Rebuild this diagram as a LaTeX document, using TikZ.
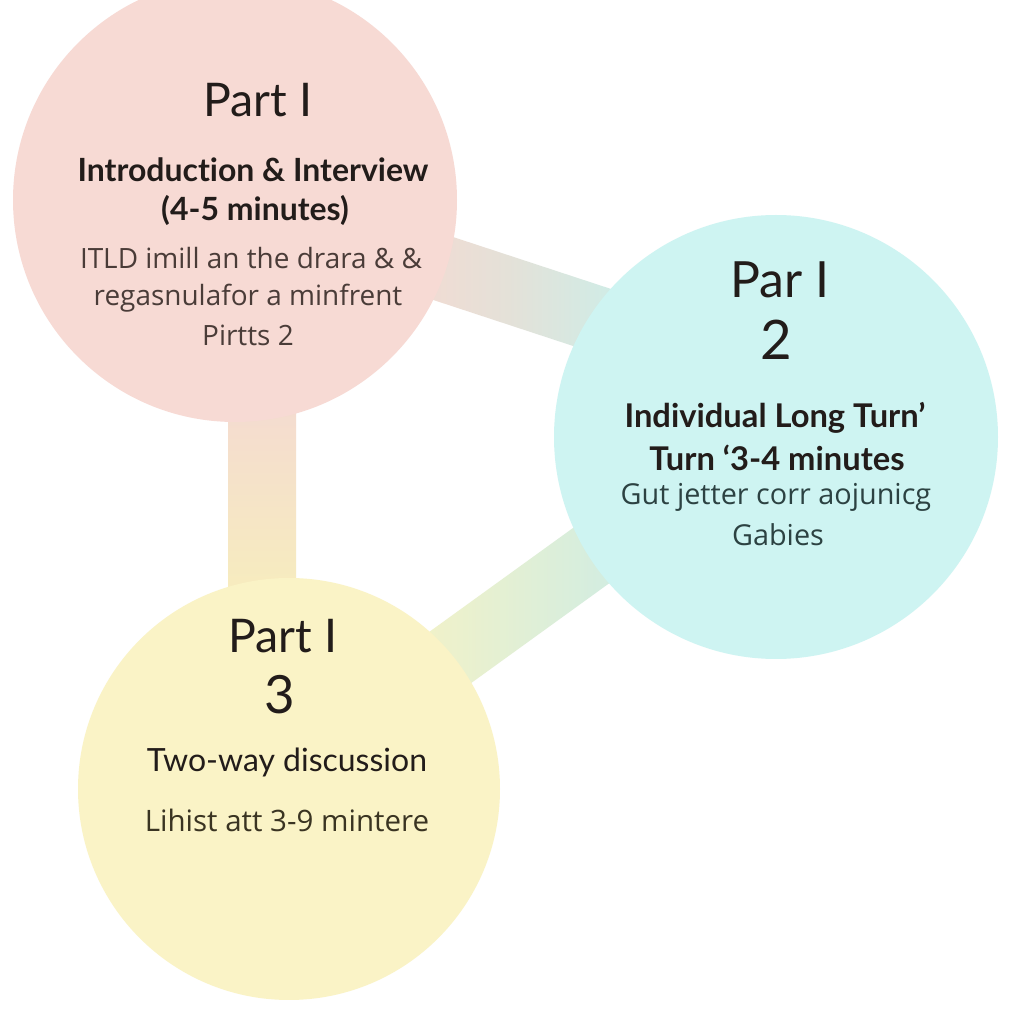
\documentclass[tikz,border=0pt]{standalone}
\usepackage{fontspec}
\setmainfont{Lato}[Ligatures=NoCommon]
\newfontfamily\bodyfont{Open Sans}
\usetikzlibrary{calc}
\pgfdeclarelayer{bottom}
\pgfdeclarelayer{bands}
\pgfsetlayers{bottom,bands,main}
\definecolor{pinkc}{RGB}{247,218,212}
\definecolor{cyanc}{RGB}{206,244,242}
\definecolor{yelc}{RGB}{250,243,198}
\definecolor{bandpink}{RGB}{244,218,210}
\definecolor{bandmid}{RGB}{228,225,216}
\definecolor{bandcyan}{RGB}{208,236,230}
\definecolor{bandyel}{RGB}{247,238,188}
\definecolor{bandgreen}{RGB}{242,242,200}
\definecolor{bandteal}{RGB}{206,236,228}
\definecolor{titlec}{RGB}{34,28,26}
\definecolor{bodyp}{RGB}{74,60,56}
\definecolor{bodyc}{RGB}{44,66,66}
\definecolor{bodyy}{RGB}{58,52,34}
\tikzset{
  blob/.style={circle, draw=none, inner sep=0pt},
  parttitle/.style={text=titlec, font=\fontsize{13.2pt}{15pt}\selectfont, inner sep=0pt},
  partnum/.style={text=titlec, font=\fontsize{15pt}{17pt}\selectfont, inner sep=0pt},
  heading/.style={text=titlec, font=\fontsize{9.1pt}{11pt}\selectfont\bfseries, inner sep=0pt},
  bodyp/.style={text=bodyp, font=\bodyfont\fontsize{7.95pt}{9pt}\selectfont, inner sep=0pt},
  bodyc/.style={text=bodyc, font=\bodyfont\fontsize{8.2pt}{9pt}\selectfont, inner sep=0pt},
  bodyy/.style={text=bodyy, font=\bodyfont\fontsize{8.4pt}{9pt}\selectfont, inner sep=0pt},
}
\begin{document}
\begin{tikzpicture}[x=1cm,y=1cm]
\begin{pgfonlayer}{bottom}
\fill[white] (0,0) rectangle (10.24,10.24);
\end{pgfonlayer}
\useasboundingbox (0,0) rectangle (10.24,10.24);
\clip (0,0) rectangle (10.24,10.24);
% circles
\node[blob, fill=pinkc, minimum size=4.44cm] (P) at (2.35,8.24) {};
\node[blob, fill=cyanc, minimum size=4.44cm] (C) at (7.76,5.87) {};
\node[blob, fill=yelc, minimum size=4.22cm] (Y) at (2.89,2.35) {};
% connectors (behind circles)
\begin{pgfonlayer}{bands}
\coordinate (cb) at ($(C.center)+(0,0.59)$);
\coordinate (pa) at ($(P.center)!0.33!(cb)$);
\coordinate (ca) at ($(P.center)!0.68!(cb)$);
\shade[left color=bandpink, right color=bandcyan, middle color=bandmid]
  ($(pa)!0.33cm!90:(ca)$) -- ($(ca)!0.33cm!-90:(pa)$) -- ($(ca)!0.33cm!90:(pa)$) -- ($(pa)!0.33cm!-90:(ca)$) -- cycle;
\coordinate (pv0) at ($(P.center)+(0.27,0)$);
\coordinate (yv0) at ($(Y.center)+(-0.27,0)$);
\coordinate (pv) at ($(pv0)!0.32!(yv0)$);
\coordinate (yv) at ($(pv0)!0.70!(yv0)$);
\shade[top color=bandpink, bottom color=bandyel]
  ($(pv)!0.34cm!90:(yv)$) -- ($(yv)!0.34cm!-90:(pv)$) -- ($(yv)!0.34cm!90:(pv)$) -- ($(pv)!0.34cm!-90:(yv)$) -- cycle;
\coordinate (yd0) at ($(Y.center)+(0,0.15)$);
\coordinate (cd0) at ($(C.center)+(0,0.15)$);
\coordinate (yd) at ($(yd0)!0.30!(cd0)$);
\coordinate (cd) at ($(yd0)!0.68!(cd0)$);
\shade[left color=bandgreen, right color=bandteal]
  ($(yd)!0.33cm!90:(cd)$) -- ($(cd)!0.33cm!-90:(yd)$) -- ($(cd)!0.33cm!90:(yd)$) -- ($(yd)!0.33cm!-90:(cd)$) -- cycle;
\end{pgfonlayer}
% Part 1 texts
\node[parttitle] (t1) at (2.58,9.24) {Part I};
\node[heading] (h1a) at (2.53,8.54) {Introduction \& Interview};
\node[heading] (h1b) at (2.55,8.14) {(4-5 minutes)};
\node[bodyp] (b1a) at (2.51,7.66) {ITLD imill an the drara \& \&};
\node[bodyp] (b1b) at (2.48,7.26) {regasnulafor a minfrent};
\node[bodyp] (b1c) at (2.48,6.89) {Pirtts 2};
% Part 2 texts
\node[parttitle, font=\fontsize{14.2pt}{16pt}\selectfont] (t2) at (7.80,7.44) {Par I};
\node[partnum, font=\fontsize{15.5pt}{17pt}\selectfont] (n2) at (7.76,6.84) {2};
\node[heading, font=\fontsize{9.3pt}{11pt}\selectfont\bfseries] (h2a) at (7.75,6.06) {Individual Long Turn’};
\node[heading, font=\fontsize{9.3pt}{11pt}\selectfont\bfseries] (h2b) at (7.77,5.66) {Turn ‘3-4 minutes};
\node[bodyc] (b2a) at (7.76,5.27) {Gut jetter corr aojunicg};
\node[bodyc] (b2b) at (7.78,4.89) {Gabies};
% Part 3 texts
\node[parttitle] (t3) at (2.83,3.88) {Part I};
\node[partnum] (n3) at (2.80,3.29) {3};
\node[heading, font=\fontsize{9.1pt}{11pt}\selectfont] (h3) at (2.87,2.62) {Two-way discussion};
\node[bodyy] (b3) at (2.87,2.04) {Lihist att 3-9 mintere};
\end{tikzpicture}
\end{document}
